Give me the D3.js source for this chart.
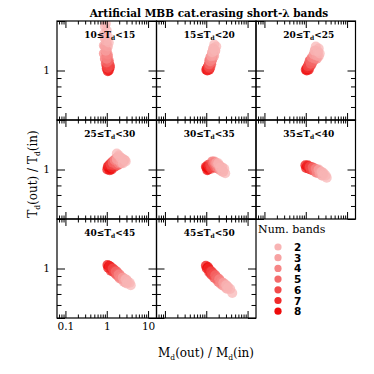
<!DOCTYPE html>
<html><head><meta charset="utf-8">
<script src="https://cdn.jsdelivr.net/npm/d3@7"></script>
<style>body{margin:0;background:#fff}svg{display:block}</style>
</head><body>
<svg id="c" width="374" height="374"></svg>
<script>
// ---- data ----
const titleText = "Artificial MBB cat.erasing short-\u03bb bands";
const panelRanges = [[10,15],[15,20],[20,25],[25,30],[30,35],[35,40],[40,45],[45,50]];
const bandCounts = [2,3,4,5,6,7,8];
const bandColors = ["#f8b4b4","#f7a2a2","#f68686","#f46a6a","#f24a4a","#f02a2a","#ee0a0a"];
const xMajorTicks = [0.1,1,10];
const xMinorTicks = [0.07,0.08,0.09,0.2,0.3,0.4,0.5,0.6,0.7,0.8,0.9,2,3,4,5,6,7,8,9];
const yMajorTicks = [0.5,1,2];
const yMinorTicks = [0.6,0.7,0.8,0.9];
const xTickLabels = ["0.1","1","10"];
const yTickLabels = ["1"];

// [number of bands, Md(out)/Md(in), Td(out)/Td(in)]
const pts_10_15 = [
 [2,0.90,1.85],[2,1.00,1.75],[2,0.85,1.66],[2,1.06,1.61],[2,0.95,1.52],[2,1.12,1.48],[2,0.95,1.93],
 [3,0.90,1.57],[3,1.00,1.48],[3,0.85,1.42],[3,1.06,1.40],[3,0.95,1.32],
 [4,0.90,1.40],[4,1.00,1.32],[4,0.85,1.27],[4,1.06,1.25],[4,1.00,1.18],
 [5,0.95,1.29],[5,1.06,1.22],[5,0.90,1.18],[5,1.12,1.15],[5,1.00,1.12],
 [6,1.00,1.18],[6,1.12,1.12],[6,0.95,1.10],[6,1.18,1.07],[6,1.06,1.04],
 [7,1.06,1.12],[7,1.18,1.07],[7,1.00,1.06],[7,1.12,1.03],[7,1.06,1.01],
 [8,1.06,1.07],[8,1.18,1.04],[8,1.00,1.03],[8,1.12,1.00],[8,1.06,0.99]];
const pts_15_20 = [
 [2,1.56,1.44],[2,1.75,1.40],[2,1.48,1.36],[2,1.65,1.32],[2,1.40,1.29],
 [3,1.48,1.36],[3,1.65,1.32],[3,1.40,1.27],[3,1.56,1.23],[3,1.32,1.22],
 [4,1.40,1.29],[4,1.48,1.23],[4,1.25,1.20],[4,1.40,1.17],[4,1.25,1.14],
 [5,1.32,1.22],[5,1.40,1.17],[5,1.18,1.15],[5,1.32,1.12],[5,1.18,1.09],
 [6,1.25,1.15],[6,1.18,1.10],[6,1.32,1.09],[6,1.12,1.06],[6,1.18,1.04],
 [7,1.18,1.09],[7,1.12,1.06],[7,1.25,1.04],[7,1.06,1.03],[7,1.12,1.01],
 [8,1.12,1.04],[8,1.06,1.03],[8,1.18,1.01],[8,1.00,1.01],[8,1.06,1.00]];
const pts_20_25 = [
 [2,1.75,1.40],[2,2.06,1.36],[2,1.65,1.32],[2,1.95,1.31],[2,2.18,1.27],
 [3,1.65,1.32],[3,1.95,1.29],[3,1.56,1.25],[3,1.85,1.23],[3,2.06,1.22],
 [4,1.56,1.25],[4,1.75,1.22],[4,1.40,1.20],[4,1.65,1.18],[4,1.85,1.18],
 [5,1.40,1.18],[5,1.56,1.15],[5,1.25,1.15],[5,1.48,1.14],[5,1.32,1.10],
 [6,1.25,1.14],[6,1.40,1.10],[6,1.18,1.09],[6,1.32,1.07],[6,1.12,1.06],
 [7,1.18,1.09],[7,1.25,1.06],[7,1.12,1.04],[7,1.18,1.03],[7,1.06,1.03],
 [8,1.12,1.04],[8,1.06,1.03],[8,1.18,1.01],[8,1.00,1.01],[8,1.06,1.00]];
const pts_25_30 = [
 [2,2.18,1.18],[2,2.58,1.15],[2,2.88,1.12],[2,1.95,1.22],[2,2.44,1.09],[2,1.75,1.25],
 [3,1.95,1.20],[3,2.31,1.17],[3,2.73,1.14],[3,1.75,1.15],[3,2.18,1.10],
 [4,1.75,1.18],[4,2.06,1.15],[4,2.44,1.12],[4,1.56,1.14],[4,1.95,1.09],
 [5,1.56,1.15],[5,1.85,1.14],[5,2.18,1.09],[5,1.40,1.10],[5,1.75,1.07],
 [6,1.40,1.12],[6,1.65,1.10],[6,1.25,1.07],[6,1.48,1.06],[6,1.85,1.06],
 [7,1.25,1.09],[7,1.40,1.06],[7,1.12,1.06],[7,1.32,1.03],[7,1.56,1.04],
 [8,1.06,1.04],[8,1.25,1.02],[8,1.03,1.00],[8,1.18,0.99],[8,1.32,1.00]];
const pts_30_35 = [
 [2,2.44,0.97],[2,2.88,0.95],[2,2.18,1.03],[2,2.73,1.01],[2,1.95,1.09],
 [3,2.18,1.00],[3,2.58,0.97],[3,1.95,1.06],[3,2.44,1.03],[3,1.75,1.10],
 [4,1.85,1.03],[4,2.18,0.99],[4,1.65,1.09],[4,2.06,1.06],[4,1.56,1.12],
 [5,1.65,1.04],[5,1.95,1.01],[5,1.48,1.09],[5,1.75,1.07],[5,1.40,1.12],
 [6,1.40,1.04],[6,1.65,1.03],[6,1.25,1.07],[6,1.48,1.09],[6,1.32,1.01],
 [7,1.18,1.04],[7,1.32,1.03],[7,1.12,1.07],[7,1.25,1.06],[7,1.40,1.06],
 [8,1.03,1.03],[8,1.12,1.00],[8,0.98,1.04],[8,1.18,1.02],[8,1.06,0.99]];
const pts_35_40 = [
 [2,2.44,0.97],[2,2.73,0.95],[2,2.58,0.92],[2,3.05,0.92],[2,3.22,0.89],
 [3,2.06,1.00],[3,2.31,0.97],[3,2.18,0.95],[3,2.58,0.95],[3,2.44,0.92],
 [4,1.75,1.01],[4,1.95,0.99],[4,1.85,0.96],[4,2.18,0.97],[4,2.06,0.95],
 [5,1.48,1.03],[5,1.65,1.01],[5,1.56,0.99],[5,1.85,0.99],[5,1.75,0.96],
 [6,1.25,1.04],[6,1.40,1.03],[6,1.32,1.00],[6,1.56,1.00],[6,1.48,0.99],
 [7,1.12,1.06],[7,1.25,1.04],[7,1.18,1.01],[7,1.40,1.03],[7,1.32,1.00],
 [8,0.98,1.06],[8,1.10,1.05],[8,1.02,1.02],[8,1.18,1.03],[8,1.25,1.01]];
const pts_40_45 = [
 [2,2.88,0.86],[2,3.22,0.83],[2,3.05,0.81],[2,3.60,0.82],[2,3.81,0.79],
 [3,2.44,0.88],[3,2.73,0.86],[3,2.58,0.83],[3,3.05,0.85],[3,2.88,0.82],
 [4,1.95,0.92],[4,2.18,0.89],[4,2.06,0.87],[4,2.44,0.88],[4,2.31,0.86],
 [5,1.65,0.96],[5,1.85,0.93],[5,1.75,0.91],[5,2.06,0.92],[5,1.95,0.89],
 [6,1.40,1.00],[6,1.56,0.97],[6,1.48,0.95],[6,1.75,0.96],[6,1.65,0.93],
 [7,1.18,1.03],[7,1.32,1.00],[7,1.25,0.97],[7,1.48,0.99],[7,1.40,0.96],
 [8,1.04,1.05],[8,1.15,1.04],[8,1.08,1.01],[8,1.25,1.02],[8,1.32,0.99]];
const pts_45_50 = [
 [2,3.05,0.79],[2,3.41,0.77],[2,3.22,0.75],[2,3.81,0.75],[2,4.26,0.71],
 [3,2.58,0.82],[3,2.88,0.80],[3,2.73,0.78],[3,3.22,0.78],[3,3.05,0.76],
 [4,2.06,0.86],[4,2.31,0.83],[4,2.18,0.81],[4,2.58,0.81],[4,2.44,0.79],
 [5,1.65,0.91],[5,1.85,0.88],[5,1.75,0.86],[5,2.06,0.86],[5,1.95,0.83],
 [6,1.32,0.96],[6,1.48,0.93],[6,1.40,0.91],[6,1.65,0.91],[6,1.56,0.88],
 [7,1.12,1.00],[7,1.25,0.97],[7,1.18,0.95],[7,1.40,0.95],[7,1.32,0.92],
 [8,0.98,1.04],[8,1.10,1.02],[8,1.03,1.00],[8,1.18,0.99],[8,1.25,0.96]];
const panelPoints = [pts_10_15,pts_15_20,pts_20_25,pts_25_30,pts_30_35,pts_35_40,pts_40_45,pts_45_50];

// ---- layout ----
const svg = d3.select("#c");
const W = 99.5, H = 99, X0 = 57, Y0 = 21;
const x = d3.scaleLog().domain([0.0625,16]).range([0,W]);
const y = d3.scaleLog().domain([0.5,2]).range([H,0]);
const color = d3.scaleOrdinal().domain(bandCounts).range(bandColors);
const serif = "'DejaVu Serif', 'Liberation Serif', serif";
const drawOrder = bandCounts.slice().reverse();

svg.append("text").attr("x",209).attr("y",17).attr("text-anchor","middle")
  .attr("font-family",serif).attr("font-size",10.5).attr("font-weight","bold").text(titleText);

function ticks(g, axisFn, scale, vals, len){
  g.call(axisFn(scale).tickValues(vals).tickSize(len).tickFormat(""))
   .call(s=>s.select(".domain").remove())
   .call(s=>s.selectAll("line").attr("stroke","#000").attr("stroke-width",1));
}

panelPoints.forEach((pts,i)=>{
  const c = i%3, r = Math.floor(i/3);
  const g = svg.append("g").attr("transform",`translate(${X0+c*W},${Y0+r*H})`);
  const clip = "clip"+i;
  g.append("clipPath").attr("id",clip).append("rect").attr("width",W).attr("height",H);
  const pg = g.append("g").attr("clip-path",`url(#${clip})`);
  drawOrder.forEach(nb=>{
    pg.selectAll(null).data(pts.filter(d=>d[0]===nb)).enter().append("circle")
      .attr("cx",d=>x(d[1])).attr("cy",d=>y(d[2])).attr("r",5).attr("fill",color(nb))
      .attr("fill-opacity",0.72);
  });
  ticks(g.append("g").attr("transform",`translate(0,${H})`), d3.axisBottom, x, xMajorTicks, -7);
  ticks(g.append("g").attr("transform",`translate(0,${H})`), d3.axisBottom, x, xMinorTicks, -3.5);
  ticks(g.append("g"), d3.axisTop, x, xMajorTicks, -7);
  ticks(g.append("g"), d3.axisTop, x, xMinorTicks, -3.5);
  ticks(g.append("g"), d3.axisLeft, y, yMajorTicks, -8);
  ticks(g.append("g"), d3.axisLeft, y, yMinorTicks, -4.5);
  ticks(g.append("g").attr("transform",`translate(${W},0)`), d3.axisRight, y, yMajorTicks, -8);
  ticks(g.append("g").attr("transform",`translate(${W},0)`), d3.axisRight, y, yMinorTicks, -4.5);
  g.append("rect").attr("width",W).attr("height",H).attr("fill","none").attr("stroke","#000").attr("stroke-width",1.2);
  const t = g.append("text").attr("x",W/2+3).attr("y",17).attr("text-anchor","middle")
    .attr("font-family",serif).attr("font-size",9).attr("font-weight","bold");
  t.append("tspan").text(panelRanges[i][0]+"\u2264T");
  t.append("tspan").attr("font-size",6).attr("dy",2).text("d");
  t.append("tspan").attr("dy",-2).text("<"+panelRanges[i][1]);
  if(c===0){
    g.append("g").call(d3.axisLeft(y).tickValues([1]).tickSize(0).tickPadding(7).tickFormat((d,k)=>yTickLabels[k]))
      .call(s=>s.select(".domain").remove())
      .call(s=>s.selectAll("text").attr("font-family",serif).attr("font-size",10.5).attr("fill","#000"));
  }
  if(i===6){
    g.append("g").attr("transform",`translate(0,${H})`)
      .call(d3.axisBottom(x).tickValues(xMajorTicks).tickSize(0).tickPadding(5).tickFormat((d,k)=>xTickLabels[k]))
      .call(s=>s.select(".domain").remove())
      .call(s=>s.selectAll("text").attr("font-family",serif).attr("font-size",10.5).attr("fill","#000"));
  }
});

// axis titles
const xt = svg.append("text").attr("x",206).attr("y",357).attr("text-anchor","middle")
  .attr("font-family",serif).attr("font-size",12);
xt.append("tspan").text("M"); xt.append("tspan").attr("font-size",7.5).attr("dy",2.5).text("d");
xt.append("tspan").attr("dy",-2.5).text("(out) / M"); xt.append("tspan").attr("font-size",7.5).attr("dy",2.5).text("d");
xt.append("tspan").attr("dy",-2.5).text("(in)");
const yt = svg.append("text").attr("transform","translate(37,174) rotate(-90)").attr("text-anchor","middle")
  .attr("font-family",serif).attr("font-size",12);
yt.append("tspan").text("T"); yt.append("tspan").attr("font-size",7.5).attr("dy",2.5).text("d");
yt.append("tspan").attr("dy",-2.5).text("(out) / T"); yt.append("tspan").attr("font-size",7.5).attr("dy",2.5).text("d");
yt.append("tspan").attr("dy",-2.5).text("(in)");

// legend
const lg = svg.append("g");
lg.append("text").attr("x",258).attr("y",233).attr("font-family",serif).attr("font-size",11)
  .text("Num. bands");
bandCounts.forEach((nb,k)=>{
  const cy = 247 + k*10.7;
  lg.append("circle").attr("cx",278).attr("cy",cy).attr("r",3.6).attr("fill",color(nb));
  lg.append("text").attr("x",294).attr("y",cy+4).attr("font-family","'DejaVu Sans', sans-serif")
    .attr("font-size",10.5).attr("font-weight","bold").text(nb);
});
</script>
</body></html>
